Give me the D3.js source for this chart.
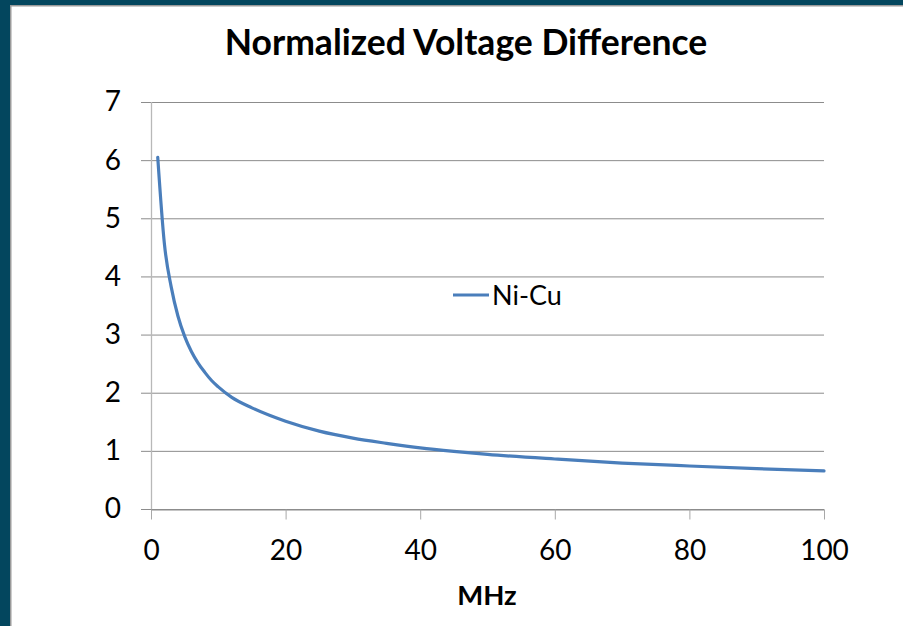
<!DOCTYPE html>
<html><head><meta charset="utf-8">
<script src="https://cdn.jsdelivr.net/npm/d3@7"></script>
<style>html,body{margin:0;padding:0;background:#fff;}svg{display:block;}</style>
</head><body>
<script>
const freq = [1,2,3,4,5,6,7,8,9,10,12,15,20,25,30,35,40,45,50,60,70,80,90,100];
const niCu = [6.05,4.55,3.82,3.32,2.97,2.71,2.51,2.35,2.21,2.10,1.92,1.74,1.51,1.34,1.22,1.13,1.05,0.99,0.94,0.86,0.79,0.74,0.695,0.655];
const xTicks = [0,20,40,60,80,100];
const yTicks = [0,1,2,3,4,5,6,7];
const seriesName = "Ni-Cu";
const title = "Normalized Voltage Difference";
const xLabel = "MHz";

const W=903,H=626;
const svg=d3.select("body").append("svg").attr("width",W).attr("height",H);
svg.append("rect").attr("width",W).attr("height",H).attr("fill","#fff");
// frame
svg.append("rect").attr("x",0).attr("y",0).attr("width",W).attr("height",5).attr("fill","#03465e");
svg.append("rect").attr("x",0).attr("y",5).attr("width",W).attr("height",1.5).attr("fill","#9a9a9a");
svg.append("rect").attr("x",0).attr("y",0).attr("width",10).attr("height",H).attr("fill","#03465e");
svg.append("rect").attr("x",10).attr("y",5).attr("width",1.5).attr("height",H).attr("fill","#9a9a9a");

const x=d3.scaleLinear().domain([0,100]).range([151,824]);
const y=d3.scaleLinear().domain([0,7]).range([509,102]);
const font="Lato, 'Open Sans', sans-serif";

// gridlines
svg.append("g").selectAll("line").data(yTicks).join("line")
  .attr("x1",141).attr("x2",824).attr("y1",d=>y(d)+0.5).attr("y2",d=>y(d)+0.5)
  .attr("stroke","#8c8c8c").attr("stroke-width",1);
// y axis line
svg.append("line").attr("x1",151.5).attr("x2",151.5).attr("y1",102).attr("y2",509)
  .attr("stroke","#b8b8b8").attr("stroke-width",1.3);

const xAxis=svg.append("g").attr("transform","translate(0,509.5)")
  .call(d3.axisBottom(x).tickValues(xTicks).tickFormat(d3.format("d")).tickSize(10).tickPadding(21).tickSizeOuter(0));
xAxis.select(".domain").attr("stroke","#8c8c8c");
xAxis.selectAll(".tick line").attr("stroke","#a8a8a8");
xAxis.selectAll("text").attr("font-family",font).attr("font-size",28).attr("fill","#000");

const yAxis=svg.append("g").attr("transform","translate(141,0)")
  .call(d3.axisLeft(y).tickValues(yTicks).tickFormat(d3.format("d")).tickSize(0).tickPadding(20));
yAxis.select(".domain").remove();
yAxis.selectAll("text").attr("font-family",font).attr("font-size",28).attr("fill","#000");

// line
const data=freq.map((f,i)=>({f,v:niCu[i]}));
svg.append("path").datum(data)
  .attr("d",d3.line().x(d=>x(d.f)).y(d=>y(d.v)).curve(d3.curveMonotoneX))
  .attr("fill","none").attr("stroke","#4a7ebb").attr("stroke-width",3.2)
  .attr("stroke-linejoin","round").attr("stroke-linecap","round");

// legend
svg.append("line").attr("x1",453).attr("x2",489).attr("y1",295).attr("y2",295)
  .attr("stroke","#4a7ebb").attr("stroke-width",3.2);
svg.append("text").attr("x",492).attr("y",305).attr("font-family",font).attr("font-size",27)
  .attr("fill","#000").text(seriesName);

// title
svg.append("text").attr("x",466).attr("y",55).attr("text-anchor","middle")
  .attr("font-family",font).attr("font-weight","bold").attr("font-size",35.5).attr("fill","#000").text(title);
svg.append("text").attr("x",487).attr("y",605).attr("text-anchor","middle")
  .attr("font-family",font).attr("font-weight","bold").attr("font-size",27.5).attr("fill","#000").text(xLabel);
</script>
</body></html>
